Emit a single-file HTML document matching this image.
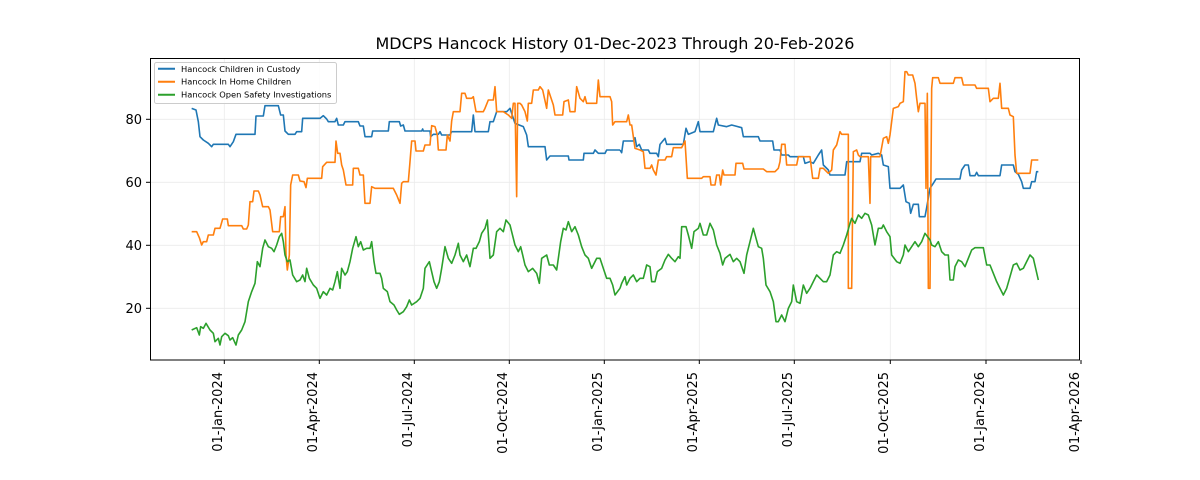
<!DOCTYPE html>
<html><head><meta charset="utf-8"><style>
html,body{margin:0;padding:0;background:#fff;}
svg{display:block;font-family:"DejaVu Sans","Liberation Sans",sans-serif;}
</style></head><body>
<svg width="1200" height="480" viewBox="0 0 1200 480" xmlns="http://www.w3.org/2000/svg">
<rect width="1200" height="480" fill="#fff"/>
<text x="615" y="49" font-size="16" text-anchor="middle" fill="#000">MDCPS Hancock History 01-Dec-2023 Through 20-Feb-2026</text>
<g stroke="#ebebeb" stroke-width="0.8">
<line x1="150" x2="1080" y1="119.3" y2="119.3"/><line x1="150" x2="1080" y1="182.3" y2="182.3"/>
<line x1="150" x2="1080" y1="245.3" y2="245.3"/><line x1="150" x2="1080" y1="308.3" y2="308.3"/>
<line y1="58" y2="360" x1="224.3" x2="224.3"/><line y1="58" y2="360" x1="319.3" x2="319.3"/>
<line y1="58" y2="360" x1="414.3" x2="414.3"/><line y1="58" y2="360" x1="509.3" x2="509.3"/>
<line y1="58" y2="360" x1="604.3" x2="604.3"/><line y1="58" y2="360" x1="699.3" x2="699.3"/>
<line y1="58" y2="360" x1="794.3" x2="794.3"/><line y1="58" y2="360" x1="890.3" x2="890.3"/>
<line y1="58" y2="360" x1="986" x2="986"/>
</g>
<g fill="none" stroke-width="1.6" stroke-linejoin="round">
<g transform="translate(150,55) scale(0.33333)">
<polyline vector-effect="non-scaling-stroke" stroke="#1f77b4" points="125,160 138,165 145,200 150,245 160,255 175,265 185,275 190,268 235,268 240,275 250,260 258,238 315,238 318,183 340,183 345,152 385,152 392,180 400,180 405,228 415,238 435,238 440,230 455,230 458,190 510,190 520,182 530,192 535,200 555,200 560,190 565,210 580,210 585,200 625,200 630,213 640,213 645,245 665,245 668,228 715,228 718,200 748,200 752,213 760,210 765,228 815,228 818,222 820,228 840,228 842,245 850,238 865,238 870,230 875,240 900,240 905,230 965,230 970,180 975,230 1015,230 1020,200 1030,200 1040,170 1070,170 1080,160 1085,175 1095,205 1120,215 1130,240 1135,275 1185,275 1190,315 1200,303 1255,303 1257,315 1300,315 1302,295 1330,295 1335,285 1345,295 1365,295 1370,285 1410,285"/>
<polyline vector-effect="non-scaling-stroke" stroke="#ff7f0e" points="125,530 140,530 148,548 155,570 160,560 170,560 175,540 190,540 195,520 210,520 218,492 232,492 235,512 275,512 280,522 290,522 295,510 300,440 308,440 312,408 325,408 330,420 338,455 355,455 360,465 368,530 388,530 392,485 400,485 405,455 408,600 412,645 418,600 422,390 428,360 445,360 450,378 462,380 468,398 472,370 515,370 518,335 530,322 555,322 558,258 563,295 570,295 575,330 580,345 588,390 608,390 610,340 625,340 630,360 640,360 645,445 660,445 665,395 675,400 730,400 740,420 750,445 755,385 760,380 775,380 780,320 785,258 795,258 798,288 820,288 825,270 840,270 845,212 855,215 862,240 865,285 888,285 892,240 900,258 905,198 910,170 930,170 935,115 945,115 950,130 965,130 970,125 978,170 1000,170 1005,160 1015,135 1030,135 1035,95 1040,170 1060,170 1075,180 1085,190 1090,145 1095,145 1100,425 1103,145 1110,145 1115,150 1125,170 1132,198 1135,145 1145,145 1150,105 1165,105 1170,95 1178,105 1190,160 1195,105 1210,150 1215,180 1238,180 1242,140 1255,135 1260,170 1275,170 1280,95 1290,130 1300,140 1305,125 1310,145 1340,145 1345,75 1350,125 1380,125 1385,140 1388,210 1395,200 1410,200"/>
<polyline vector-effect="non-scaling-stroke" stroke="#2ca02c" points="125,825 140,818 148,840 152,815 160,820 168,805 180,825 190,835 195,860 205,850 210,870 215,845 225,835 235,842 240,855 248,848 258,870 265,840 275,825 285,800 295,740 305,710 315,685 322,620 330,635 338,580 345,555 355,575 365,580 372,590 380,570 388,545 395,535 400,560 405,600 412,620 420,615 428,660 440,680 450,675 458,660 465,680 470,640 478,670 490,690 500,700 510,730 520,710 530,720 540,700 548,705 555,680 562,650 570,700 575,640 585,660 592,650 600,620 608,580 618,545 625,575 632,560 640,585 650,580 660,580 665,560 672,620 678,655 690,655 695,670 700,700 712,710 720,740 732,750 740,765 748,778 760,770 770,755 778,735 785,750 800,740 810,730 820,700 825,640 838,620 845,650 852,680 860,700 868,680 875,640 885,575 895,610 905,625 915,600 925,565 930,600 940,620 950,600 960,635 970,580 978,580 988,560 995,535 1005,520 1012,495 1020,610 1030,600 1040,530 1050,520 1060,530 1068,495 1080,510 1085,530 1095,570 1105,590 1112,575 1118,600 1125,630 1135,650 1148,640 1160,655 1168,685 1175,610 1190,600 1198,630 1210,630 1220,645 1225,610 1232,560 1240,520 1248,525 1255,500 1265,530 1275,515 1285,540 1295,575 1305,600 1315,610 1325,640 1340,610 1350,610 1360,640 1370,670 1380,670 1388,690 1395,720 1410,700"/>
</g>
<g transform="translate(600,55) scale(0.33333)">
<polyline vector-effect="non-scaling-stroke" stroke="#1f77b4" points="60,285 65,293 70,258 100,258 105,248 110,275 118,268 125,285 145,285 150,295 170,295 175,305 180,268 195,250 200,268 250,268 258,220 265,238 285,230 295,200 300,230 340,230 350,190 355,210 380,215 395,210 425,218 430,245 475,245 480,258 518,258 522,285 540,285 545,300 565,300 570,305 610,305 615,325 630,320 640,325 655,300 665,285 670,330 685,345 690,360 735,360 740,320 780,320 785,295 810,295 815,300 835,295 845,300 850,330 865,335 870,400 900,400 910,390 918,440 928,445 932,475 940,448 955,448 958,485 975,485 980,458 990,400 1000,385 1008,372 1080,372 1085,345 1095,330 1105,330 1110,362 1125,362 1130,352 1135,362 1200,362 1205,330 1240,330 1245,350 1255,358 1265,380 1270,400 1290,400 1295,380 1305,380 1310,350 1315,350"/>
<polyline vector-effect="non-scaling-stroke" stroke="#ff7f0e" points="60,200 80,200 85,180 90,210 95,210 105,280 120,285 130,290 135,340 150,340 155,330 160,345 168,360 175,315 195,315 200,305 215,305 220,278 245,278 255,258 262,370 305,370 310,365 330,365 333,390 345,390 350,360 358,360 362,390 368,345 372,360 405,360 408,325 428,325 432,342 490,342 500,350 525,350 535,340 540,320 545,268 555,268 560,330 590,330 595,305 630,305 638,370 655,370 660,340 670,340 680,350 685,355 695,345 700,285 710,270 720,230 725,238 745,238 745,700 755,700 760,290 770,285 775,300 780,305 805,305 810,445 812,305 840,305 850,250 860,245 865,265 870,240 880,160 895,155 900,145 910,140 915,50 920,50 925,60 938,60 945,85 950,130 955,170 960,145 975,145 978,400 982,115 985,700 990,700 995,100 998,68 1015,68 1020,85 1060,85 1065,68 1085,68 1090,90 1125,90 1130,100 1165,100 1170,140 1180,130 1195,130 1200,85 1205,160 1225,160 1230,180 1240,185 1245,300 1250,355 1290,355 1295,315 1315,315"/>
<polyline vector-effect="non-scaling-stroke" stroke="#2ca02c" points="60,700 65,685 75,665 80,690 90,670 100,660 110,680 120,670 130,670 140,630 150,635 155,680 165,680 172,650 185,640 195,615 205,598 215,610 225,620 235,605 240,610 245,515 258,515 265,540 275,580 282,530 295,520 300,505 310,540 320,540 330,505 340,525 350,570 360,595 368,630 375,610 390,598 400,620 410,610 420,620 432,655 440,600 450,560 460,520 468,550 475,575 485,580 490,610 498,690 510,710 520,740 528,800 535,800 545,780 555,800 565,760 575,740 580,690 590,740 600,745 610,690 620,715 630,700 640,680 650,660 660,670 670,680 680,680 690,660 700,600 710,590 720,595 730,570 740,540 750,505 755,490 765,505 775,480 785,490 795,475 805,480 815,510 825,570 835,520 845,520 850,510 860,530 870,545 875,600 890,620 900,625 910,600 915,570 925,590 935,575 945,560 955,575 965,560 975,535 990,555 995,570 1005,575 1015,560 1025,590 1035,600 1045,600 1050,675 1060,675 1065,635 1075,615 1085,620 1095,635 1105,610 1115,585 1125,578 1150,578 1160,630 1170,630 1180,655 1190,680 1200,700 1210,720 1220,700 1230,665 1240,630 1250,625 1260,645 1270,640 1280,620 1290,600 1300,610 1315,675"/>
</g>
</g>
<rect x="150.5" y="58.5" width="929" height="301.5" fill="none" stroke="#000" stroke-width="1"/>
<g stroke="#000" stroke-width="1">
<line x1="146" x2="150" y1="119.3" y2="119.3"/><line x1="146" x2="150" y1="182.3" y2="182.3"/>
<line x1="146" x2="150" y1="245.3" y2="245.3"/><line x1="146" x2="150" y1="308.3" y2="308.3"/>
<line y1="360" y2="364" x1="224.3" x2="224.3"/><line y1="360" y2="364" x1="319.3" x2="319.3"/>
<line y1="360" y2="364" x1="414.3" x2="414.3"/><line y1="360" y2="364" x1="509.3" x2="509.3"/>
<line y1="360" y2="364" x1="604.3" x2="604.3"/><line y1="360" y2="364" x1="699.3" x2="699.3"/>
<line y1="360" y2="364" x1="794.3" x2="794.3"/><line y1="360" y2="364" x1="890.3" x2="890.3"/>
<line y1="360" y2="364" x1="986" x2="986"/><line y1="360" y2="364" x1="1081" x2="1081"/>
</g>
<g font-size="13" fill="#000" text-anchor="end">
<text x="142" y="124">80</text><text x="142" y="187">60</text>
<text x="142" y="250">40</text><text x="142" y="313">20</text>
</g>
<g font-size="13" fill="#000" text-anchor="end">
<text transform="translate(222,372) rotate(-90)">01-Jan-2024</text>
<text transform="translate(317,372) rotate(-90)">01-Apr-2024</text>
<text transform="translate(412,372) rotate(-90)">01-Jul-2024</text>
<text transform="translate(507,372) rotate(-90)">01-Oct-2024</text>
<text transform="translate(602,372) rotate(-90)">01-Jan-2025</text>
<text transform="translate(697,372) rotate(-90)">01-Apr-2025</text>
<text transform="translate(792,372) rotate(-90)">01-Jul-2025</text>
<text transform="translate(888,372) rotate(-90)">01-Oct-2025</text>
<text transform="translate(984,372) rotate(-90)">01-Jan-2026</text>
<text transform="translate(1079,372) rotate(-90)">01-Apr-2026</text>
</g>
<rect x="154.5" y="62.5" width="182" height="41" rx="2" fill="#fff" fill-opacity="0.85" stroke="#ccc"/>
<g stroke-width="2">
<line x1="158" x2="175" y1="68.8" y2="68.8" stroke="#1f77b4"/>
<line x1="158" x2="175" y1="81.7" y2="81.7" stroke="#ff7f0e"/>
<line x1="158" x2="175" y1="94.7" y2="94.7" stroke="#2ca02c"/>
</g>
<g font-size="8.3" fill="#000">
<text x="181" y="71.8">Hancock Children in Custody</text>
<text x="181" y="84.7">Hancock In Home Children</text>
<text x="181" y="97.7">Hancock Open Safety Investigations</text>
</g>
</svg>
</body></html>
